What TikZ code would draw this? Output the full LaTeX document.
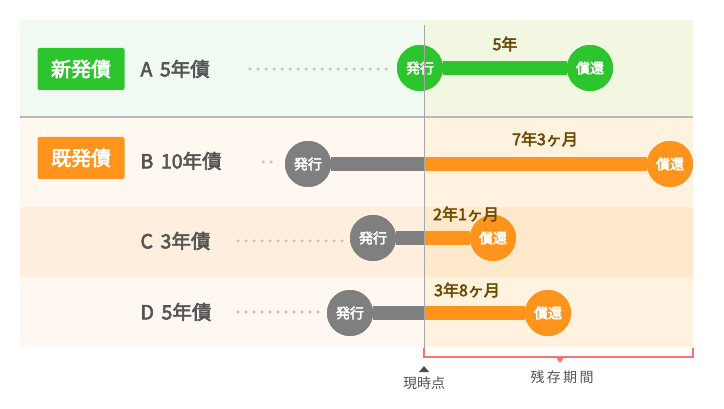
\documentclass[tikz,border=0pt]{standalone}
\usepackage{fontspec}
\setmainfont{Noto Sans CJK JP}
\newfontfamily\jpb{Noto Sans CJK JP}[FakeBold=3]
\definecolor{grn}{HTML}{2DC52D}
\definecolor{org}{HTML}{FF941C}
\definecolor{gry}{HTML}{7F7F7F}
\definecolor{brn}{HTML}{6B4A00}
\definecolor{txt}{HTML}{555555}
\definecolor{brk}{HTML}{F27474}
\definecolor{b1}{HTML}{F1FAF0}
\definecolor{b2}{HTML}{F1F7E1}
\definecolor{b3}{HTML}{FFF8F0}
\definecolor{b4}{HTML}{FFF3E0}
\definecolor{b5}{HTML}{FDEEDD}
\definecolor{b6}{HTML}{FFE9CC}
\definecolor{b7}{HTML}{FFF8F2}
\tikzset{
 dot/.style={circle,minimum size=46pt,inner sep=0pt,text=white,font=\jpb\fontsize{14}{14}\selectfont},
 tag/.style={rounded corners=2pt,minimum width=87pt,minimum height=42pt,text=white,font=\jpb\fontsize{20}{20}\selectfont},
 lab/.style={anchor=west,text=txt,font=\jpb\fontsize{19.5}{20}\selectfont},
 dur/.style={text=brn,font=\jpb\fontsize{16}{16}\selectfont},
 bar/.style={line width=14pt},
 dots/.style={draw=gray!45,line width=3.5pt,line cap=round,dash pattern=on 0pt off 8pt},
 small/.style={text=txt,font=\fontsize{14}{14}\selectfont}
}
\begin{document}
\begin{tikzpicture}[x=1pt,y=-1pt]
\useasboundingbox[fill=white] (0,0) rectangle (724,409);
% bands
\fill[b1] (20,20) rectangle (424,116);
\fill[b2] (424,20) rectangle (693,116);
\fill[b3] (20,118) rectangle (424,207);
\fill[b4] (424,118) rectangle (693,207);
\fill[b5] (20,207) rectangle (424,277);
\fill[b6] (424,207) rectangle (693,277);
\fill[b7] (20,277) rectangle (424,347);
\fill[b4] (424,277) rectangle (693,347);
\draw[gray!55,line width=1.5pt] (20,117) -- (693,117);
% tags
\node[tag,fill=grn] (tn) at (81,69) {新発債};
\node[tag,fill=org] (tk) at (81,158) {既発債};
\node[lab] (la) at (137,69) {A\, 5年債};
\node[lab] (lb) at (137,161) {B\, 10年債};
\node[lab] (lc) at (137,241) {C\, 3年債};
\node[lab] (ld) at (137,312) {D\, 5年債};
% A
\node[dot,fill=grn] (ai) at (420,68) {発行};
\node[dot,fill=grn] (ar) at (590,68) {償還};
\draw[grn,bar] (ai) -- (ar);
\node[dur] at (505,44) {5年};
\draw[dots] (250,69) -- (392,69);
% B
\coordinate (now) at (424,164);
\node[dot,fill=gry] (bi) at (308,164) {発行};
\node[dot,fill=org] (br) at (670,164) {償還};
\draw[gry,bar] (bi) -- (now);
\draw[org,bar] (now) -- (br);
\node[dur] at (545,139) {7年3ヶ月};
\draw[dots] (263,162) -- (275,162);
% C
\coordinate (nc) at (424,238);
\node[dot,fill=gry] (ci) at (373,238) {発行};
\node[dot,fill=org] (cr) at (493,238) {償還};
\draw[gry,bar] (ci) -- (nc);
\draw[org,bar] (nc) -- (cr);
\draw[dots] (238,241) -- (347,241);
% D
\coordinate (nd) at (424,313);
\node[dot,fill=gry] (di) at (350,313) {発行};
\node[dot,fill=org] (dr) at (548,313) {償還};
\draw[gry,bar] (di) -- (nd);
\draw[org,bar] (nd) -- (dr);
\draw[dots] (238,312) -- (322,312);
% redraw circles on top
\foreach \n/\c/\t in {ai/grn/発行,ar/grn/償還,bi/gry/発行,br/org/償還,ci/gry/発行,cr/org/償還,di/gry/発行,dr/org/償還}
  \node[dot,fill=\c] at (\n) {\t};
\node[dur] at (466,214) {2年1ヶ月};
\node[dur] at (467,290) {3年8ヶ月};
% now line
\draw[gray!70,line width=1pt] (424,25) -- (424,355);
% bracket
\draw[brk,line width=2pt] (424,348) -- (424,357) -- (693,357) -- (693,348);
\fill[brk] (555,356) -- (565,356) -- (560,363) -- cycle;
\fill[txt!90!black] (419,372) -- (429,372) -- (424,366) -- cycle;
\node[small] (nw) at (424,383) {現時点};
\node[small] (zz) at (562,377) {残\,存\,期\,間};
\end{tikzpicture}
\end{document}
